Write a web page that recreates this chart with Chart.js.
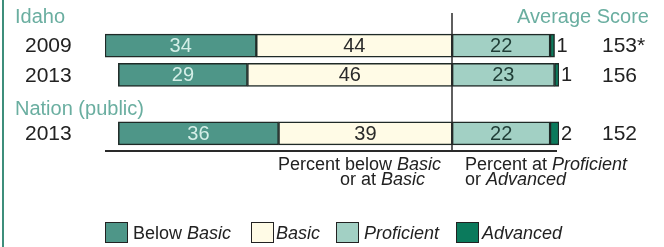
<!DOCTYPE html>
<html>
<head>
<meta charset="utf-8">
<script src="https://cdn.jsdelivr.net/npm/chart.js@4/dist/chart.umd.min.js"></script>
<style>
    body { margin: 0; background: #fff; }
    #wrap {
        position: relative; width: 664px; height: 247px; overflow: hidden;
        font-family: "Liberation Sans", Arial, sans-serif; color: #222;
    }
    #wrap .t { position: absolute; white-space: nowrap; }
    .head { font-size: 20px; line-height: 20px; color: #6aaea0; }
    .cap { font-size: 18px; line-height: 18px; color: #222; }
    .leg { font-size: 18px; line-height: 18px; color: #222; }
    .box { position: absolute; width: 23px; height: 21px; border: 1.5px solid #222; box-sizing: border-box; }
    #edge { position: absolute; left: 2px; top: 0; width: 2px; height: 247px; background: #3d8e7b; }
</style>
</head>
<body>
<div id="wrap">
    <canvas id="chart" width="664" height="247"></canvas>
    <div id="edge"></div>

    <div class="t head" style="left:15px; top:6px;">Idaho</div>
    <div class="t head" style="left:15px; top:98px;">Nation (public)</div>
    <div class="t head" style="right:15px; top:6px;">Average Score</div>

    <div class="t cap" style="left:278px; top:155px;">Percent below <i>Basic</i></div>
    <div class="t cap" style="left:340px; top:170px;">or at <i>Basic</i></div>
    <div class="t cap" style="left:465px; top:155px;">Percent at <i>Proficient</i></div>
    <div class="t cap" style="left:465px; top:170px;">or <i>Advanced</i></div>

    <div class="box" style="left:105px; top:222px; background:#4e9688;"></div>
    <div class="t leg" style="left:133px; top:224px;">Below <i>Basic</i></div>
    <div class="box" style="left:251px; top:222px; background:#fffbe6;"></div>
    <div class="t leg" style="left:276px; top:224px;"><i>Basic</i></div>
    <div class="box" style="left:336px; top:222px; background:#a2d0c4;"></div>
    <div class="t leg" style="left:364px; top:224px;"><i>Proficient</i></div>
    <div class="box" style="left:456px; top:222px; background:#0b7a5c;"></div>
    <div class="t leg" style="left:482px; top:224px;"><i>Advanced</i></div>
</div>

<script>
    // filas: Idaho 2009, Idaho 2013, (hueco), Nación 2013
    const rowLabels = ['2009', '2013', '', '2013'];
    const belowBasic = [34, 29, null, 36];
    const basic = [44, 46, null, 39];
    const proficient = [22, 23, null, 22];
    const advanced = [1, 1, null, 2];
    const avgScore = [153, 156, null, 152];
    const avgSignificant = [true, false, false, false];

    const FONT = '"Liberation Sans", Arial, sans-serif';

    // los niveles bajos van hacia la izquierda (negativos)
    const neg = arr => arr.map(v => v === null ? null : -v);

    const labelsPlugin = {
        id: 'naepLabels',
        afterDatasetsDraw(chart) {
            const ctx = chart.ctx;
            const xs = chart.scales.x;
            const ys = chart.scales.y;
            ctx.save();
            ctx.textBaseline = 'middle';
            ctx.font = '20px ' + FONT;

            // valores dentro de las barras
            chart.data.datasets.forEach((ds, di) => {
                const meta = chart.getDatasetMeta(di);
                meta.data.forEach((bar, i) => {
                    const raw = ds.data[i];
                    if (raw === null) return;
                    const txt = String(Math.abs(raw));
                    if (ds.outside) {
                        ctx.fillStyle = '#222';
                        ctx.textAlign = 'left';
                        ctx.fillText(txt, Math.max(bar.x, bar.base) + 2, bar.y + 1);
                    } else {
                        ctx.fillStyle = ds.textColor;
                        ctx.textAlign = 'center';
                        ctx.fillText(txt, (bar.x + bar.base) / 2, bar.y + 1);
                    }
                });
            });

            // años y puntaje promedio
            ctx.font = '21px ' + FONT;
            rowLabels.forEach((lab, i) => {
                const y = ys.getPixelForValue(i) + 1;
                ctx.fillStyle = '#222';
                ctx.textAlign = 'left';
                if (lab) ctx.fillText(lab, 25, y);
                if (avgScore[i] !== null) {
                    ctx.fillText(avgScore[i] + (avgSignificant[i] ? '*' : ''), 602, y);
                }
            });

            // línea central y línea base
            const x0 = Math.round(xs.getPixelForValue(0));
            ctx.strokeStyle = '#2a2a2a';
            ctx.lineWidth = 1.5;
            ctx.beginPath();
            ctx.moveTo(x0, 13);
            ctx.lineTo(x0, 151);
            ctx.stroke();
            ctx.lineWidth = 2;
            ctx.beginPath();
            ctx.moveTo(xs.left, 151);
            ctx.lineTo(xs.right - 2, 151);
            ctx.stroke();
            ctx.restore();
        }
    };

    new Chart(document.getElementById('chart'), {
        type: 'bar',
        data: {
            labels: rowLabels,
            datasets: [
                { label: 'Basic', data: neg(basic), backgroundColor: '#fffbe6', textColor: '#2a2a2a' },
                { label: 'Below Basic', data: neg(belowBasic), backgroundColor: '#4e9688', textColor: '#d4eee7' },
                { label: 'Proficient', data: proficient, backgroundColor: '#a2d0c4', textColor: '#1f3d36' },
                { label: 'Advanced', data: advanced, backgroundColor: '#0b7a5c', outside: true }
            ].map(ds => Object.assign(ds, {
                borderColor: '#1f2a27',
                borderWidth: 1.5,
                borderSkipped: false,
                barThickness: 23
            }))
        },
        options: {
            indexAxis: 'y',
            responsive: false,
            animation: false,
            events: [],
            layout: { padding: { left: 105, right: 105, top: 31, bottom: 99 } },
            scales: {
                x: { display: false, stacked: true, min: -78, max: 24 },
                y: { display: false, stacked: true }
            },
            plugins: {
                legend: { display: false },
                tooltip: { enabled: false }
            }
        },
        plugins: [labelsPlugin]
    });
</script>
</body>
</html>
